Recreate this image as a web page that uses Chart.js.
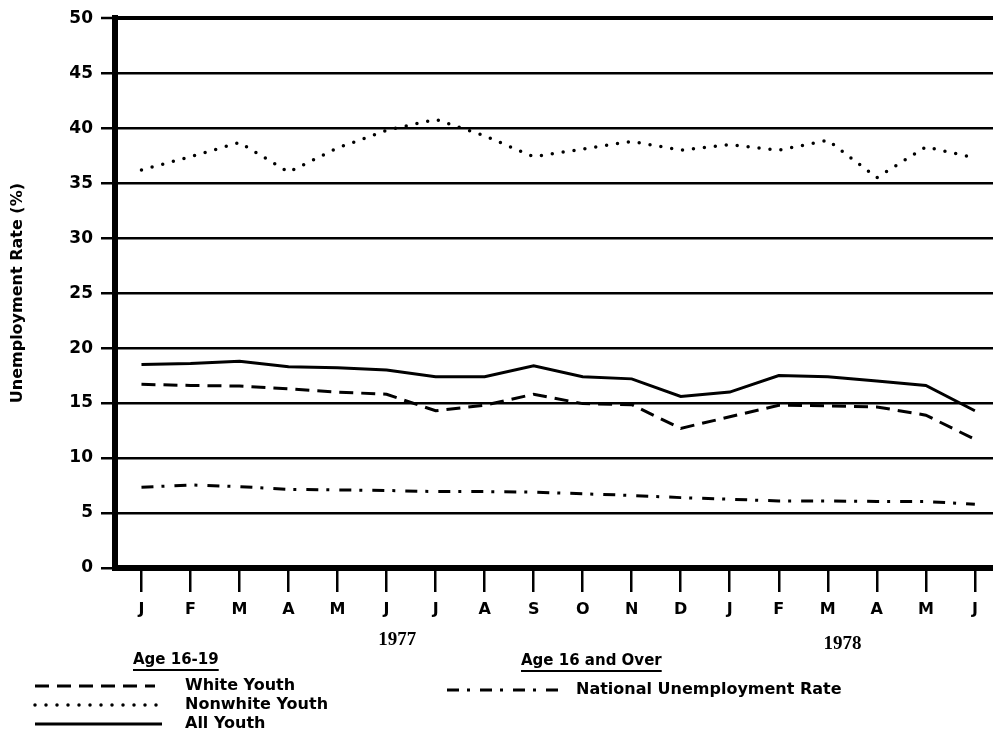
<!DOCTYPE html>
<html>
<head>
<meta charset="utf-8">
<script src="https://cdn.jsdelivr.net/npm/chart.js@4/dist/chart.umd.min.js"></script>
<style>
  html, body { margin: 0; padding: 0; background: #fff; overflow: hidden; }
  #wrap { width: 993px; height: 738px; }
</style>
</head>
<body>
<div id="wrap"><canvas id="chart" width="993" height="738"></canvas></div>
<script>
// --- data (unemployment rate, %) ---
const months = ['J', 'F', 'M', 'A', 'M', 'J', 'J', 'A', 'S', 'O', 'N', 'D', 'J', 'F', 'M', 'A', 'M', 'J'];
const whiteYouth    = [16.7, 16.6, 16.55, 16.3, 16.0, 15.8, 14.3, 14.8, 15.8, 14.95, 14.85, 12.7, 13.75, 14.8, 14.75, 14.65, 13.9, 11.7];
const nonwhiteYouth = [36.2, 37.4, 38.7, 36.0, 38.2, 39.8, 40.8, 39.3, 37.4, 38.1, 38.8, 38.0, 38.5, 38.0, 38.9, 35.5, 38.3, 37.3];
const allYouth      = [18.5, 18.6, 18.8, 18.3, 18.2, 18.0, 17.4, 17.4, 18.4, 17.4, 17.2, 15.6, 16.0, 17.5, 17.4, 17.0, 16.6, 14.3];
const nationalRate  = [7.35, 7.55, 7.4, 7.15, 7.1, 7.05, 6.95, 6.95, 6.9, 6.75, 6.6, 6.4, 6.25, 6.1, 6.1, 6.05, 6.05, 5.8];
const yTicks = [0, 5, 10, 15, 20, 25, 30, 35, 40, 45, 50];
const years = ['1977', '1978'];

const toPoints = arr => arr.map((v, i) => ({ x: i, y: v }));

// year labels, legend (drawn under the axis)
const annotations = {
  id: 'annotations',
  afterDraw(chart) {
    const ctx = chart.ctx, xs = chart.scales.x, ds = chart.data.datasets;
    ctx.save();
    ctx.fillStyle = '#000';
    ctx.strokeStyle = '#000';
    ctx.textBaseline = 'middle';

    ctx.font = 'bold 19px "Liberation Serif"';
    ctx.textAlign = 'center';
    ctx.fillText(years[0], xs.getPixelForValue(5.22), 640);
    ctx.fillText(years[1], xs.getPixelForValue(14.3), 644);

    ctx.textAlign = 'left';
    ctx.font = 'bold 15px "DejaVu Sans"';
    function heading(t, x, y) {
      ctx.fillText(t, x, y);
      const w = ctx.measureText(t).width;
      ctx.setLineDash([]);
      ctx.lineWidth = 2;
      ctx.beginPath(); ctx.moveTo(x, y + 10); ctx.lineTo(x + w, y + 10); ctx.stroke();
    }
    function entry(d, x1, x2, y, tx) {
      ctx.setLineDash(d.borderDash || []);
      ctx.lineCap = d.borderCapStyle || 'butt';
      ctx.lineWidth = d.borderWidth;
      ctx.beginPath(); ctx.moveTo(x1, y); ctx.lineTo(x2, y); ctx.stroke();
      ctx.setLineDash([]);
      ctx.fillText(d.label, tx, y);
    }
    heading('Age 16-19', 133, 660);
    heading('Age 16 and Over', 521, 661);
    ctx.font = 'bold 16px "DejaVu Sans"';
    entry(ds[0], 35, 155, 686, 185);
    entry(ds[1], 35, 165, 705, 185);
    entry(ds[2], 35, 162, 724, 185);
    entry(ds[3], 447, 565, 690, 576);
    ctx.restore();
  }
};

new Chart(document.getElementById('chart'), {
  type: 'line',
  data: {
    datasets: [
      { label: 'White Youth', data: toPoints(whiteYouth), borderColor: '#000', borderWidth: 3, borderDash: [14, 8] },
      { label: 'Nonwhite Youth', data: toPoints(nonwhiteYouth), borderColor: '#000', borderWidth: 3.5, borderDash: [0, 11], borderCapStyle: 'round' },
      { label: 'All Youth', data: toPoints(allYouth), borderColor: '#000', borderWidth: 3 },
      { label: 'National Unemployment Rate', data: toPoints(nationalRate), borderColor: '#000', borderWidth: 3, borderDash: [12, 8, 3, 10] }
    ]
  },
  options: {
    responsive: false,
    devicePixelRatio: 1,
    animation: false,
    elements: { point: { radius: 0 }, line: { tension: 0, fill: false } },
    layout: { padding: { top: 12, right: 0, left: 0, bottom: 0 } },
    plugins: { legend: { display: false }, tooltip: { enabled: false } },
    scales: {
      x: {
        type: 'linear',
        min: -0.54,
        max: 17.37,
        afterBuildTicks: s => { s.ticks = months.map((m, i) => ({ value: i })); },
        afterFit: s => { s.height = 170; },
        ticks: {
          autoSkip: false,
          maxRotation: 0,
          padding: 8,
          color: '#000',
          font: { family: 'DejaVu Sans', weight: 'bold', size: 16 },
          callback: v => months[v]
        },
        grid: { drawOnChartArea: false, drawTicks: true, tickLength: 24, color: '#000', lineWidth: 2.5 },
        border: { display: true, color: '#000', width: 6 }
      },
      y: {
        min: 0,
        max: 50,
        afterBuildTicks: s => { s.ticks = yTicks.map(v => ({ value: v })); },
        afterFit: s => { s.width = 115; },
        ticks: {
          padding: 8,
          color: '#000',
          font: { family: 'DejaVu Sans', weight: 'bold', size: 17 }
        },
        grid: {
          color: '#000',
          lineWidth: c => c.tick && c.tick.value === 50 ? 4 : 2.5,
          tickLength: 14,
          tickWidth: 2.5
        },
        border: { display: true, color: '#000', width: 6 },
        title: {
          display: true,
          text: 'Unemployment Rate (%)',
          color: '#000',
          font: { family: 'DejaVu Sans', weight: 'bold', size: 16 },
          padding: { top: 8, bottom: 0 }
        }
      }
    }
  },
  plugins: [annotations]
});
</script>
</body>
</html>
